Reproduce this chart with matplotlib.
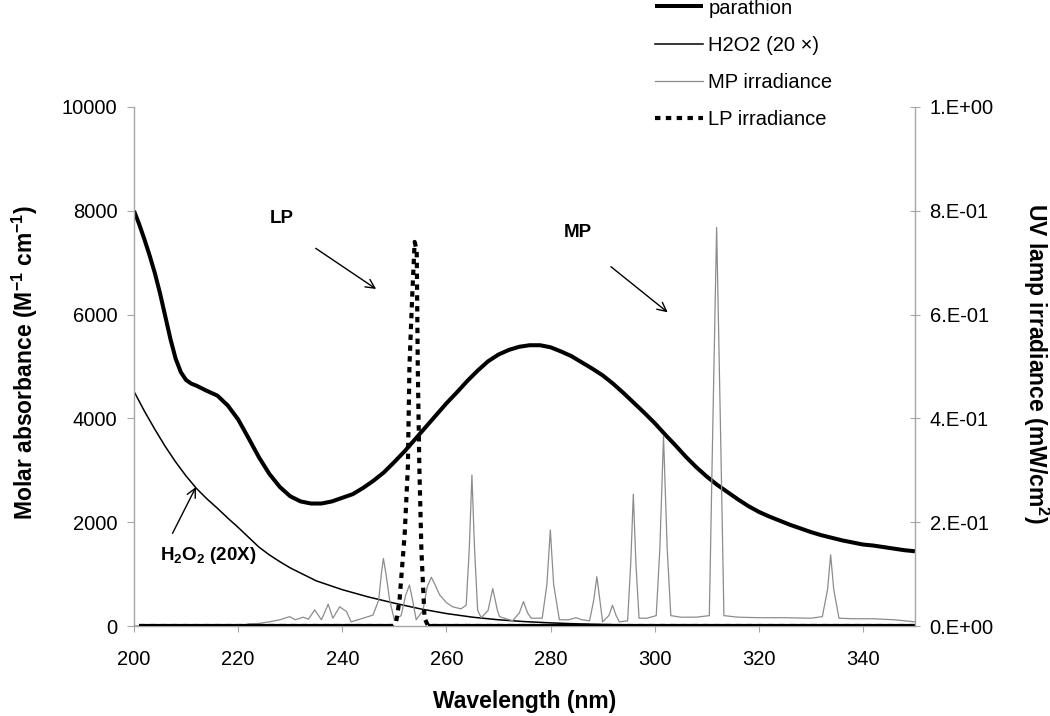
import matplotlib
matplotlib.use("Agg")
import matplotlib.pyplot as plt
import numpy as np
from matplotlib.ticker import FuncFormatter, MultipleLocator

plt.rcParams['font.family'] = ['Liberation Sans', 'DejaVu Sans']
plt.rcParams['mathtext.fontset'] = 'custom'
plt.rcParams['mathtext.rm'] = 'Liberation Sans'
plt.rcParams['mathtext.bf'] = 'Liberation Sans:bold'

# ---------------- data ----------------
par_nm = [200, 201, 202, 203, 204, 205, 206, 207, 208, 209, 210, 211, 212,
          214, 216, 218, 220, 222, 224, 226, 228, 230, 232, 234, 236, 238,
          240, 242, 244, 246, 248, 250, 252, 254, 256, 258, 260, 262, 264,
          266, 268, 270, 272, 274, 276, 278, 280, 282, 284, 286, 288, 290,
          292, 294, 296, 298, 300, 302, 304, 306, 308, 310, 312, 314, 316,
          318, 320, 322, 324, 326, 328, 330, 332, 334, 336, 338, 340, 342,
          344, 346, 348, 350]
parathion = [8000, 7740, 7450, 7140, 6800, 6410, 5970, 5530, 5150, 4890, 4740, 4670, 4630,
             4530, 4440, 4250, 3980, 3620, 3250, 2930, 2680, 2500, 2400, 2360, 2360, 2400,
             2470, 2540, 2660, 2800, 2960, 3160, 3370, 3600, 3830, 4060, 4290, 4500, 4720,
             4920, 5100, 5230, 5320, 5380, 5410, 5410, 5370, 5290, 5200, 5080, 4960, 4830,
             4670, 4490, 4300, 4110, 3910, 3690, 3480, 3260, 3060, 2880, 2720, 2580, 2440,
             2310, 2200, 2110, 2030, 1950, 1880, 1810, 1750, 1700, 1650, 1610, 1570, 1550,
             1520, 1490, 1460, 1440]

h2o2_nm = [200, 202, 204, 206, 208, 210, 212, 214, 216, 218, 220, 222, 224, 226,
           228, 230, 235, 240, 245, 250, 255, 260, 265, 270, 275, 280, 285, 290,
           295, 300, 305, 310, 315, 320, 325, 330, 340, 350]
h2o2_20x = [4520, 4140, 3790, 3460, 3160, 2890, 2650, 2450, 2270, 2080, 1900, 1710, 1520, 1370,
            1240, 1120, 870, 700, 560, 440, 330, 240, 170, 120, 85, 60, 42, 30,
            20, 14, 9, 6, 4, 2, 1, 0, 0, 0]

mp_nm = [200, 220, 222, 224, 226, 228, 229.9, 231.0, 232.5, 233.5,
         234.7, 236.0, 237.3, 238.2, 239.5, 240.8, 241.7, 243.0, 244.0, 245.9,
         247.0, 247.5, 247.9, 248.4, 249.1, 250.0, 251.3, 252.2, 252.9, 253.5,
         254.2, 255.5, 256.3, 257.1, 257.8, 258.7, 260.0, 261.2, 262.8, 263.8,
         264.4, 264.9, 265.4, 266.0, 266.7, 268.0, 268.9, 269.8, 270.2, 272.7,
         274.0, 274.8, 275.6, 276.3, 278.4, 279.3, 279.96, 280.6, 281.7, 283.5,
         284.9, 286.0, 287.5, 288.3, 288.9, 289.6, 290.0, 291.2, 291.9, 292.6,
         293.2, 294.8, 295.4, 295.9, 296.4, 297.0, 298.5, 300.3, 301.0, 301.7,
         302.4, 303.1, 305.0, 308.0, 310.5, 311.1, 311.9, 312.7, 313.3, 316.0,
         320.0, 325.0, 330.0, 332.2, 333.2, 333.8, 334.4, 335.4, 338.0, 342.0,
         346.0, 350.0]
mp_irr = [0.0, 0.0, 0.004, 0.005, 0.008, 0.012, 0.018, 0.012, 0.017, 0.013,
          0.031, 0.012, 0.042, 0.015, 0.037, 0.028, 0.008, 0.012, 0.015, 0.021,
          0.05, 0.10, 0.130, 0.10, 0.05, 0.012, 0.02, 0.06, 0.079, 0.05,
          0.012, 0.03, 0.075, 0.094, 0.08, 0.06, 0.045, 0.037, 0.033, 0.04,
          0.15, 0.291, 0.15, 0.03, 0.016, 0.03, 0.072, 0.03, 0.018, 0.01,
          0.025, 0.047, 0.025, 0.015, 0.015, 0.08, 0.185, 0.08, 0.012, 0.012,
          0.016, 0.012, 0.01, 0.05, 0.095, 0.04, 0.008, 0.02, 0.04, 0.02,
          0.008, 0.01, 0.12, 0.254, 0.12, 0.015, 0.015, 0.02, 0.15, 0.366,
          0.15, 0.02, 0.017, 0.017, 0.02, 0.35, 0.768, 0.35, 0.02, 0.017,
          0.016, 0.016, 0.015, 0.018, 0.07, 0.137, 0.07, 0.015, 0.014, 0.014,
          0.012, 0.008]

lp_nm = [201, 249.7, 250.3, 251.0, 252.0, 252.6, 252.9, 253.4, 253.9, 254.3,
         254.5, 254.8, 255.2, 255.8, 256.5, 350]
lp_irr = [0, 0, 0.005, 0.05, 0.179, 0.307, 0.5, 0.628, 0.74, 0.724,
          0.5, 0.307, 0.146, 0.015, 0, 0]

labels = ["parathion", "H2O2 (20 \u00d7)", "MP irradiance", "LP irradiance"]
x_ticks = [200, 220, 240, 260, 280, 300, 320, 340]

# ---------------- figure ----------------
W, H = 1050, 716
fig = plt.figure(figsize=(W / 100, H / 100), dpi=100)
ax = fig.add_axes([134 / W, 90 / H, (915 - 134) / W, (626 - 107) / H])
ax2 = ax.twinx()

spine_col = '#a6a6a6'
l1, = ax.plot(par_nm, parathion, color='black', lw=2.9, solid_capstyle='butt')
l2, = ax.plot(h2o2_nm, h2o2_20x, color='black', lw=1.1)
l3, = ax2.plot(mp_nm, mp_irr, color='#8c8c8c', lw=0.9)
lp_arr = np.array(lp_irr, dtype=float)
l4, = ax2.plot(lp_nm, lp_arr, color='black', lw=3.0,
               linestyle=(0, (1.3, 1.3)), dash_capstyle='butt')
ax2.plot(lp_nm, np.where(lp_arr == 0, lp_arr, np.nan), color='black', lw=3.0,
         solid_capstyle='butt')

ax.set_xlim(200, 350)
ax.set_ylim(0, 10000)
ax2.set_ylim(0, 1.0)
ax.set_xticks(x_ticks)
ax.yaxis.set_major_locator(MultipleLocator(2000))
ax2.yaxis.set_major_locator(MultipleLocator(0.2))
ax2.yaxis.set_major_formatter(FuncFormatter(lambda v, p: f"{v:.0E}".replace("E", ".E")))

for a in (ax, ax2):
    a.spines['top'].set_visible(False)
    a.patch.set_visible(False)
ax.spines['right'].set_visible(False)
ax2.spines['left'].set_visible(False)
ax2.spines['bottom'].set_visible(False)
for s in ('left', 'bottom'):
    ax.spines[s].set_color(spine_col)
    ax.spines[s].set_linewidth(1.0)
ax2.spines['right'].set_color(spine_col)
ax2.spines['right'].set_linewidth(1.0)

ax.tick_params(axis='y', direction='out', length=5, width=0.8, color=spine_col,
               labelsize=14.5, pad=7)
ax.tick_params(axis='x', direction='out', length=4.5, width=0.8, color=spine_col,
               labelsize=14.5, pad=13)
ax2.tick_params(axis='y', direction='inout', length=7, width=0.8, color=spine_col,
                labelsize=14.5, pad=7)

# axis labels
fig.text(524.5 / W, 1 - 701.7 / H, 'Wavelength (nm)', ha='center', va='center',
         fontsize=16.5, fontweight='bold')
fig.text(25 / W, 1 - 363 / H, r'Molar absorbance (M$^{\mathbf{-1}}$ cm$^{\mathbf{-1}}$)',
         ha='center', va='center', rotation=90, fontsize=16.5, fontweight='bold')
fig.text(1036 / W, 1 - 363 / H, r'UV lamp irradiance (mW/cm$^{\mathbf{2}}$)',
         ha='center', va='center', rotation=270, fontsize=16.5, fontweight='bold')

# annotations (data coords of left axis)
ax.text(228.3, 7855, 'LP', ha='center', va='center', fontsize=13.5, fontweight='bold')
ax.annotate('', xy=(246.5, 6493), xytext=(234.9, 7277),
            arrowprops=dict(arrowstyle='->', lw=1.0, color='black', mutation_scale=16,
                            shrinkA=0, shrinkB=0))
ax.text(285.2, 7586, 'MP', ha='center', va='center', fontsize=13.5, fontweight='bold')
ax.annotate('', xy=(302.5, 6044), xytext=(291.6, 6923),
            arrowprops=dict(arrowstyle='->', lw=1.0, color='black', mutation_scale=16,
                            shrinkA=0, shrinkB=0))
ax.text(214.2, 1349, r'H$_\mathbf{2}$O$_\mathbf{2}$ (20X)', ha='center', va='center',
        fontsize=13.5, fontweight='bold')
ax.annotate('', xy=(211.9, 2678), xytext=(207.4, 1786),
            arrowprops=dict(arrowstyle='->', lw=1.0, color='black', mutation_scale=16,
                            shrinkA=0, shrinkB=0))

# legend
fig.legend([l1, l2, l3, l4], labels, loc='upper left',
           bbox_to_anchor=(655 / W, 1 + 1.5 / H), frameon=False, fontsize=14.5,
           handlelength=2.4, handletextpad=0.25, labelspacing=0.9,
           borderpad=0, borderaxespad=0)

fig.savefig('out.png', dpi=100)
